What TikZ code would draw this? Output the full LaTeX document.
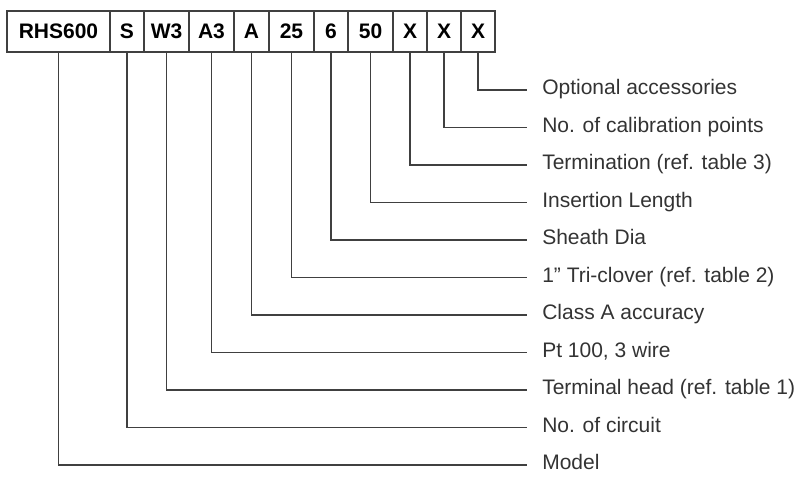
\documentclass[tikz,border=0pt]{standalone}
\usepackage{fontspec}
\setmainfont{Liberation Sans}
\usetikzlibrary{positioning}
\begin{document}
\begin{tikzpicture}[
        x = 0.75pt, y = -0.75pt,
        every node/.style = {font = \fontsize{15.75}{18}\selectfont, text = black!80},
        code/.style = {draw = black!75, line width = 1pt, minimum height = 30.75pt,
            inner sep = 0pt, outer sep = 0pt, text = black,
            font = \fontsize{15.75}{18}\selectfont\bfseries},
        item/.style = {anchor = west, inner xsep = 11.25pt, inner ysep = 0pt,
            text height = 0.716em, text depth = 0pt},
        lead/.style = {draw = black!75, line width = 0.9pt},
        ]
    \useasboundingbox (0,0) rectangle (800,477);
    % order code
    \node[code, minimum width = 77.25pt] (model) at (58.5,31.5) {RHS600};
    \node[code, minimum width = 25.5pt, right = 0pt of model] (circuit) {S};
    \node[code, minimum width = 33.75pt, right = 0pt of circuit] (head) {W3};
    \node[code, minimum width = 33.75pt, right = 0pt of head] (element) {A3};
    \node[code, minimum width = 26.25pt, right = 0pt of element] (accuracy) {A};
    \node[code, minimum width = 33.75pt, right = 0pt of accuracy] (fitting) {25};
    \node[code, minimum width = 25.5pt, right = 0pt of fitting] (sheath) {6};
    \node[code, minimum width = 33.75pt, right = 0pt of sheath] (length) {50};
    \node[code, minimum width = 25.5pt, right = 0pt of length] (termination) {X};
    \node[code, minimum width = 25.5pt, right = 0pt of termination] (calibration) {X};
    \node[code, minimum width = 25.5pt, right = 0pt of calibration] (accessories) {X};
    % meanings
    \node[item] (accessories-txt) at (527,90) {Optional accessories};
    \node[item] (calibration-txt) at (527,127.5) {No. of calibration points};
    \node[item] (termination-txt) at (527,165) {Termination (ref. table 3)};
    \node[item] (length-txt) at (527,202.5) {Insertion Length};
    \node[item] (sheath-txt) at (527,240) {Sheath Dia};
    \node[item] (fitting-txt) at (527,277.5) {1” Tri-clover (ref. table 2)};
    \node[item] (accuracy-txt) at (527,315) {Class A accuracy};
    \node[item] (element-txt) at (527,352.5) {Pt 100, 3 wire};
    \node[item] (head-txt) at (527,390) {Terminal head (ref. table 1)};
    \node[item] (circuit-txt) at (527,427.5) {No. of circuit};
    \node[item] (model-txt) at (527,465) {Model};
    % leaders
    \draw[lead] (accessories.south) |- (accessories-txt.west);
    \draw[lead] (calibration.south) |- (calibration-txt.west);
    \draw[lead] (termination.south) |- (termination-txt.west);
    \draw[lead] (length.south) |- (length-txt.west);
    \draw[lead] (sheath.south) |- (sheath-txt.west);
    \draw[lead] (fitting.south) |- (fitting-txt.west);
    \draw[lead] (accuracy.south) |- (accuracy-txt.west);
    \draw[lead] (element.south) |- (element-txt.west);
    \draw[lead] (head.south) |- (head-txt.west);
    \draw[lead] (circuit.south) |- (circuit-txt.west);
    \draw[lead] (model.south) |- (model-txt.west);
\end{tikzpicture}
\end{document}
